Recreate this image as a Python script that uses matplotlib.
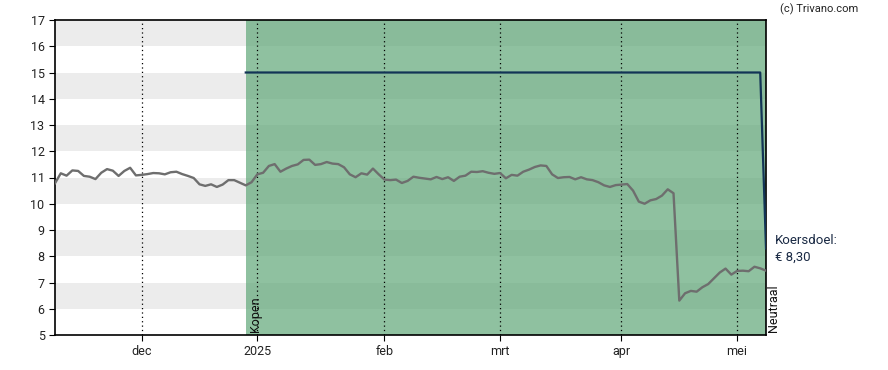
import matplotlib.pyplot as plt

plt.rcParams['font.family'] = ['Roboto', 'DejaVu Sans']

# daily closing prices (one value per trading day)
prices = [
    10.78, 11.16, 11.07, 11.27, 11.25, 11.06, 11.03, 10.94, 11.18, 11.32,
    11.26, 11.06, 11.25, 11.37, 11.08, 11.10, 11.13, 11.17, 11.16, 11.12,
    11.20, 11.22, 11.13, 11.06, 10.98, 10.74, 10.68, 10.74, 10.64, 10.73,
    10.90, 10.90, 10.80, 10.70, 10.82, 11.12, 11.18, 11.44, 11.51, 11.22,
    11.34, 11.44, 11.50, 11.67, 11.68, 11.48, 11.51, 11.59, 11.53, 11.51,
    11.39, 11.12, 11.01, 11.16, 11.11, 11.34, 11.12, 10.92, 10.90, 10.92,
    10.79, 10.87, 11.03, 10.99, 10.96, 10.93, 11.02, 10.94, 11.01, 10.87,
    11.03, 11.07, 11.22, 11.21, 11.24, 11.18, 11.14, 11.17, 10.97, 11.10,
    11.07, 11.22, 11.30, 11.40, 11.46, 11.44, 11.12, 10.98, 11.01, 11.02,
    10.93, 11.01, 10.93, 10.90, 10.82, 10.70, 10.64, 10.71, 10.73, 10.75,
    10.50, 10.08, 10.00, 10.13, 10.18, 10.31, 10.55, 10.40, 6.31, 6.59,
    6.68, 6.65, 6.82, 6.94, 7.16, 7.38, 7.53, 7.30, 7.44, 7.45,
    7.43, 7.60, 7.54, 7.45,
]
month_labels = ['dec', '2025', 'feb', 'mrt', 'apr', 'mei']
month_idx = [15, 35, 57, 77, 98, 118]

advice_start = 33
target_idx = [33, 122, 123]
target_vals = [15.0, 15.0, 8.30]

fig = plt.figure(figsize=(8.88, 3.70), dpi=100)
ax = fig.add_axes([55 / 888, 35 / 370, 711 / 888, 315 / 370])

n = len(prices)
ax.set_xlim(0, n - 1)
ax.set_ylim(5, 17)

# alternating horizontal bands
for lo in range(6, 17, 2):
    ax.axhspan(lo, lo + 1, color='#ececec', lw=0, zorder=0)

# advice period (Kopen)
ax.axvspan(advice_start, n - 1, color='#5aa473', alpha=0.68, lw=0, zorder=1)

for m in month_idx:
    ax.axvline(m, color='black', ls=(0, (1, 2.5)), lw=0.9, zorder=2)

ax.plot(range(n), prices, color='#6e6e6e', lw=1.7, zorder=3)
ax.plot(target_idx, target_vals, color='#123456', lw=1.6, zorder=4)

ax.set_xticks(month_idx)
ax.set_xticklabels(month_labels)
ax.set_yticks(range(5, 18))
ax.tick_params(axis='both', labelsize=9, length=4, colors='black', labelcolor='#222222')
for s in ax.spines.values():
    s.set_linewidth(1.2)

ax.text(advice_start + 1.7, 5.12, 'Kopen', rotation=90, ha='center', va='bottom',
        fontsize=9, color='#111111', zorder=5)
ax.text(n - 1 + 1.3, 5.12, 'Neutraal', rotation=90, ha='center', va='bottom',
        fontsize=9, color='#111111', clip_on=False)

fig.text(775 / 888, 1 - 240 / 370, 'Koersdoel:', fontsize=9.5, color='#1a2a44', va='center')
fig.text(775 / 888, 1 - 257 / 370, '€ 8,30', fontsize=9.5, color='#1a2a44', va='center')
fig.text(858 / 888, 1 - 9 / 370, '(c) Trivano.com', fontsize=8, color='#222222',
         ha='right', va='center')

fig.savefig('out.png', dpi=100)
